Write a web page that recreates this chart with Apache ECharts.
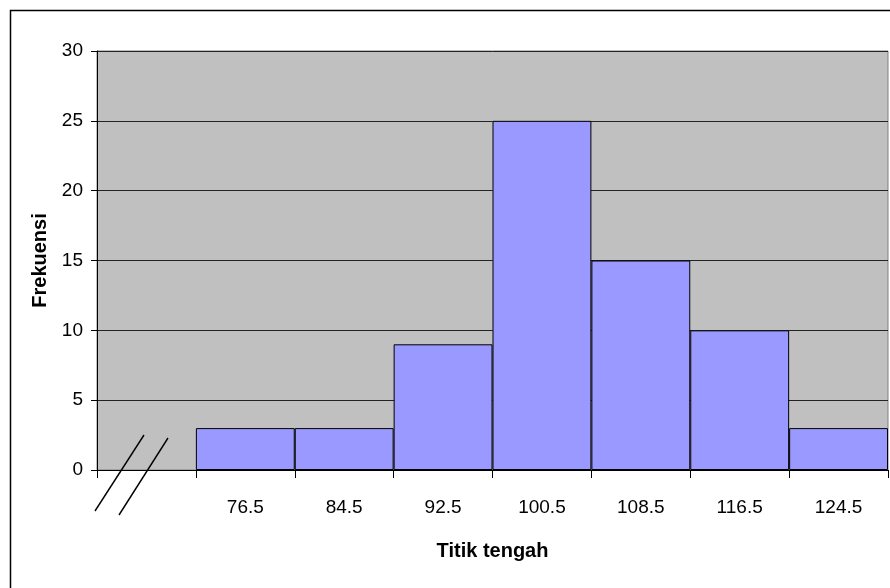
<!DOCTYPE html>
<html>

<head>
    <meta charset="utf-8">
    <title>Histogram</title>
    <script src="https://cdn.jsdelivr.net/npm/echarts@6/dist/echarts.min.js"></script>
    <style>
        body { margin: 0; background: #fff; }
    </style>
</head>

<body>
    <div id="main" style="width: 890px;height:588px;"></div>
    <script type="text/javascript">
        // titik tengah (first slot is empty, where the axis break is drawn)
        var categories = ['', '76.5', '84.5', '92.5', '100.5', '108.5', '116.5', '124.5'];
        var frekuensi = ['-', 3, 3, 9, 25, 15, 10, 3];
        var yTicks = { min: 0, max: 30, interval: 5 };

        var font = '"Liberation Sans", Arial, sans-serif';

        var myChart = echarts.init(document.getElementById('main'));

        var option = {
            animation: false,
            grid: {
                left: 97,
                right: 2,
                top: 51,
                bottom: 118,
                show: true,
                backgroundColor: '#C0C0C0',
                borderColor: '#808080',
                borderWidth: 1
            },
            xAxis: {
                type: 'category',
                data: categories,
                name: 'Titik tengah',
                nameLocation: 'middle',
                nameGap: 71,
                nameTextStyle: { fontFamily: font, fontSize: 20, fontWeight: 'bold', color: '#000' },
                axisLine: { lineStyle: { color: '#000', width: 1 } },
                axisTick: { show: true, length: 8, lineStyle: { color: '#000' } },
                axisLabel: { fontFamily: font, fontSize: 19, color: '#000', margin: 28 },
                splitLine: { show: false }
            },
            yAxis: {
                type: 'value',
                min: yTicks.min,
                max: yTicks.max,
                interval: yTicks.interval,
                name: 'Frekuensi',
                nameLocation: 'middle',
                nameGap: 46,
                nameTextStyle: { fontFamily: font, fontSize: 20, fontWeight: 'bold', color: '#000' },
                axisLine: { show: true, lineStyle: { color: '#000', width: 1 } },
                axisTick: { show: true, length: 6, lineStyle: { color: '#000' } },
                axisLabel: { fontFamily: font, fontSize: 19, color: '#000', margin: 14 },
                splitLine: { show: true, lineStyle: { color: '#222', width: 1 } }
            },
            series: [{
                type: 'bar',
                data: frekuensi,
                barCategoryGap: 0,
                itemStyle: {
                    color: '#9999FF',
                    borderColor: '#000',
                    borderWidth: 1
                }
            }],
            graphic: [
                // outer chart frame
                { type: 'rect', shape: { x: 10.5, y: 10.5, width: 900, height: 600 }, style: { fill: 'none', stroke: '#000', lineWidth: 1.5 } },
                // axis break marks
                { type: 'line', shape: { x1: 95, y1: 511, x2: 144, y2: 435 }, style: { stroke: '#000', lineWidth: 1.4 } },
                { type: 'line', shape: { x1: 119, y1: 515, x2: 168, y2: 438 }, style: { stroke: '#000', lineWidth: 1.4 } }
            ]
        };

        myChart.setOption(option);
    </script>
</body>

</html>
